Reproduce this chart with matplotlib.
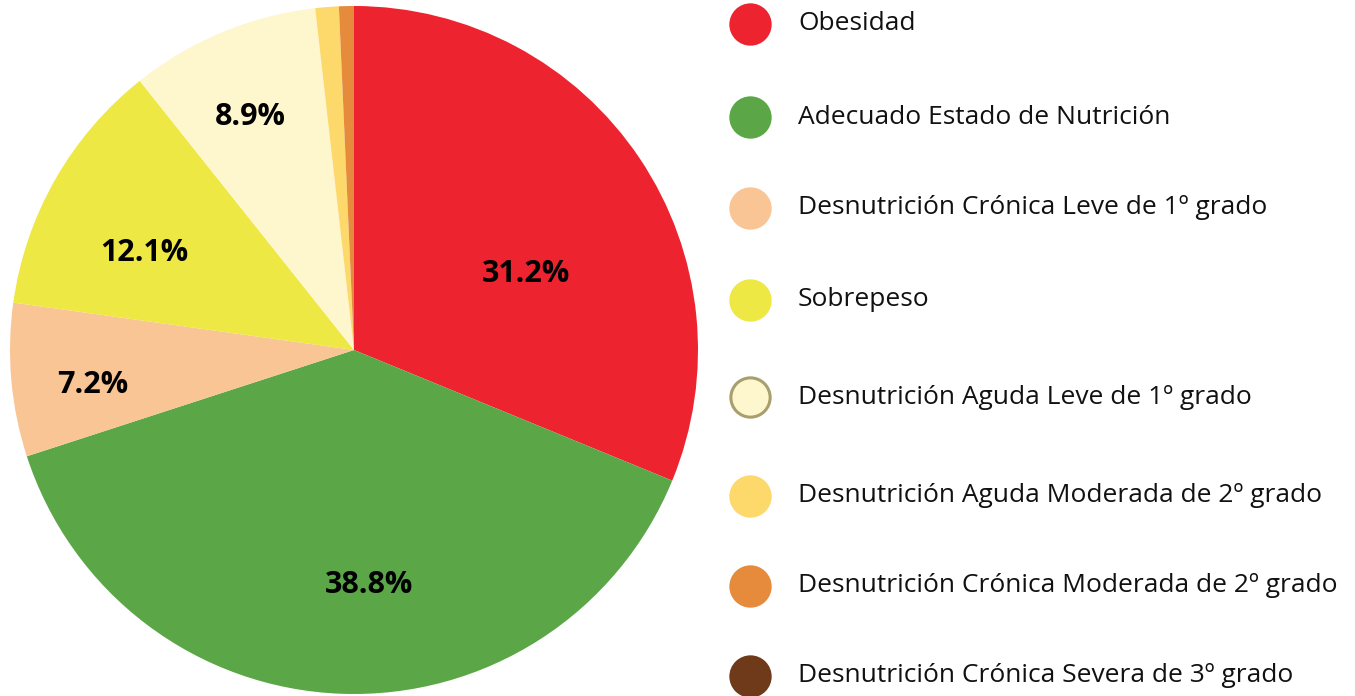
import matplotlib.pyplot as plt

plt.rcParams['font.family'] = ['Open Sans', 'DejaVu Sans']

# categories and shares (%)
categories = ['Obesidad', 'Adecuado Estado de Nutrición',
              'Desnutrición Crónica Leve de 1º grado', 'Sobrepeso',
              'Desnutrición Aguda Leve de 1º grado',
              'Desnutrición Aguda Moderada de 2º grado',
              'Desnutrición Crónica Moderada de 2º grado',
              'Desnutrición Crónica Severa de 3º grado']
shares = [31.2, 38.8, 7.2, 12.1, 8.9, 1.1, 0.7, 0.0]
colors = ['#EE2330', '#5BA646', '#F9C595', '#EDE843', '#FEF6CD',
          '#FDD86A', '#E68A3B', '#6E3A1A']

fig = plt.figure(figsize=(13.55, 6.96), dpi=100)
W, H = 1355, 696

# pie
ax = fig.add_axes([10 / W, 2 / H, 688 / W, 688 / H])
wedges, texts, autotexts = ax.pie(
    shares, colors=colors, startangle=90, counterclock=False, radius=1,
    autopct=lambda p: f'{p:.1f}%' if p > 5 else '', pctdistance=0.7,
    textprops=dict(fontsize=22, fontweight='bold', color='black'))
ax.set_xlim(-1, 1)
ax.set_ylim(-1, 1)
ax.set_aspect('equal')
# label spots as in the original
label_xy = [(0.50, 0.22), (0.044, -0.683), (-0.759, -0.102),
            (-0.608, 0.282), (-0.302, 0.677)]
for t, xy in zip(autotexts, label_xy):
    t.set_position(xy)

# legend drawn by hand
lax = fig.add_axes([0, 0, 1, 1], facecolor='none')
lax.set_xlim(0, W)
lax.set_ylim(H, 0)
lax.axis('off')
ys = [24, 117, 208, 300, 397, 496, 586, 676]
for i, (name, c) in enumerate(zip(categories, colors)):
    edge = '#A89F6E' if i == 4 else c
    lax.scatter(750, ys[i], s=800, color=c, edgecolors=edge, linewidths=2.2, zorder=3)
    lax.text(798, ys[i], name, fontsize=19, va='center', ha='left', color='#111111')

fig.savefig('out.png', dpi=100)
